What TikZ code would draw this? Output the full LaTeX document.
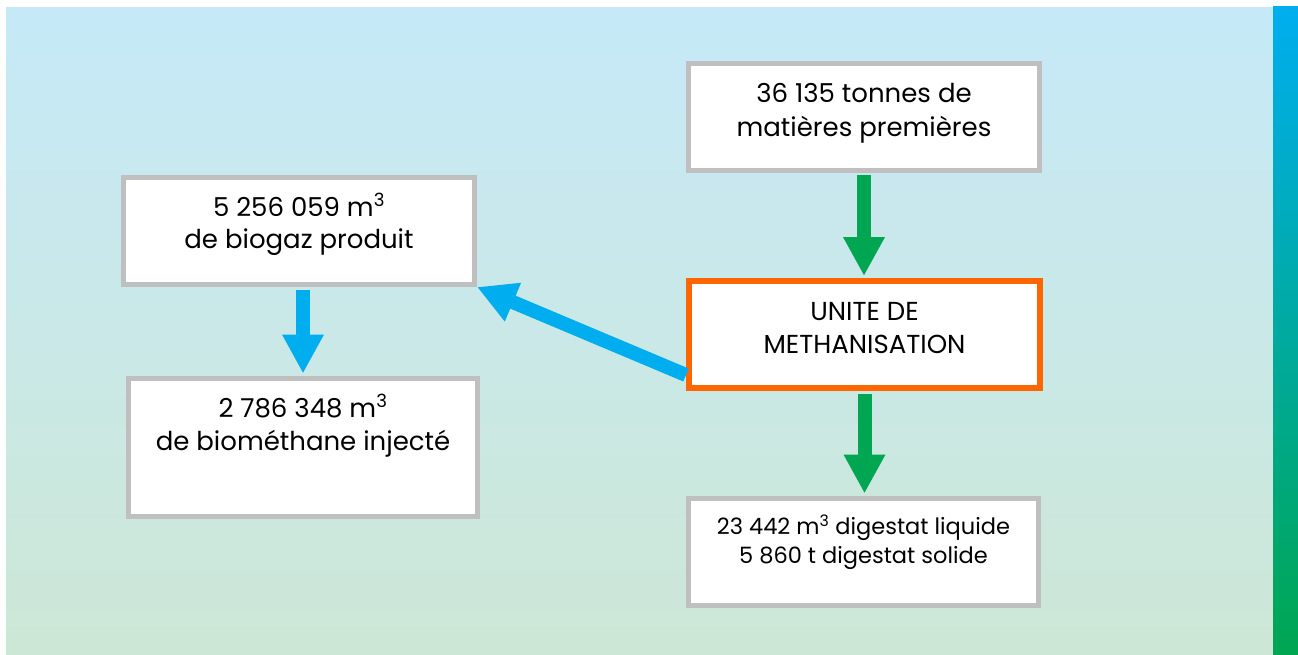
\documentclass[tikz,border=0pt]{standalone}
\usepackage{fontspec}
\setmainfont{Poppins}
\usetikzlibrary{arrows.meta}
\definecolor{flowgreen}{HTML}{00A651}
\definecolor{flowblue}{HTML}{00AEEF}
\definecolor{unitorange}{HTML}{FF6600}
\definecolor{boxgray}{HTML}{BFBFBF}
\definecolor{bgtop}{HTML}{C6E9F8}
\definecolor{bgbottom}{HTML}{CDE7D6}

\begin{document}
\begin{tikzpicture}[x=1pt, y=-1pt,
    box/.style={draw=boxgray, line width=5pt, fill=white, inner sep=0pt, align=center,
        minimum width=351pt, font=\fontsize{26}{33}\selectfont},
    flow/.style={line width=14pt, -{Triangle[length=39pt, width=39pt]}}]
    \useasboundingbox (0,0) rectangle (1298,655);

    % Background
    \fill[white] (0,0) rectangle (1298,655);
    \shade[top color=bgtop, bottom color=bgbottom] (6,8) rectangle (1273,655);
    \shade[top color=flowblue, bottom color=flowgreen] (1273,7) rectangle (1298,655);

    % Boxes
    \node[box, font=\fontsize{26}{34}\selectfont, text height=73.5pt, text depth=33.5pt] (mat) at (864,117)
        {36 135 tonnes de\\matières premières};
    \node[box, draw=unitorange, line width=6pt, text height=72pt, text depth=35pt] (unite) at (864.5,334.5)
        {UNITE DE\\METHANISATION};
    \node[box, minimum width=350pt, font=\fontsize{22.5}{29}\selectfont,
        text height=64.5pt, text depth=42.5pt] (dig) at (863.5,552)
        {23 442 m\textsuperscript{3} digestat liquide\\5 860 t digestat solide};
    \node[box, font=\fontsize{26}{32}\selectfont, text height=70.5pt, text depth=36.5pt] (biogaz) at (299,231)
        {5 256 059 m\textsuperscript{3}\\de biogaz produit};
    \node[box, minimum width=349pt, text height=71.5pt, text depth=66.5pt] (biomet) at (303,447.5)
        {2 786 348 m\textsuperscript{3}\\de biométhane injecté};

    % Flows
    \draw[flow, flowgreen, shorten <=2.5pt, shorten >=2pt] (mat.south) -- (mat.south |- unite.north);
    \draw[flow, flowgreen, shorten <=3pt, shorten >=2.5pt] (unite.south) -- (unite.south |- dig.north);
    \draw[flow, flowblue] ([yshift=16pt]unite.south west) -- (biogaz.south east);
    \draw[flow, flowblue, shorten <=2.5pt, shorten >=2.5pt] (biomet.north |- biogaz.south) -- (biomet.north);
\end{tikzpicture}
\end{document}
